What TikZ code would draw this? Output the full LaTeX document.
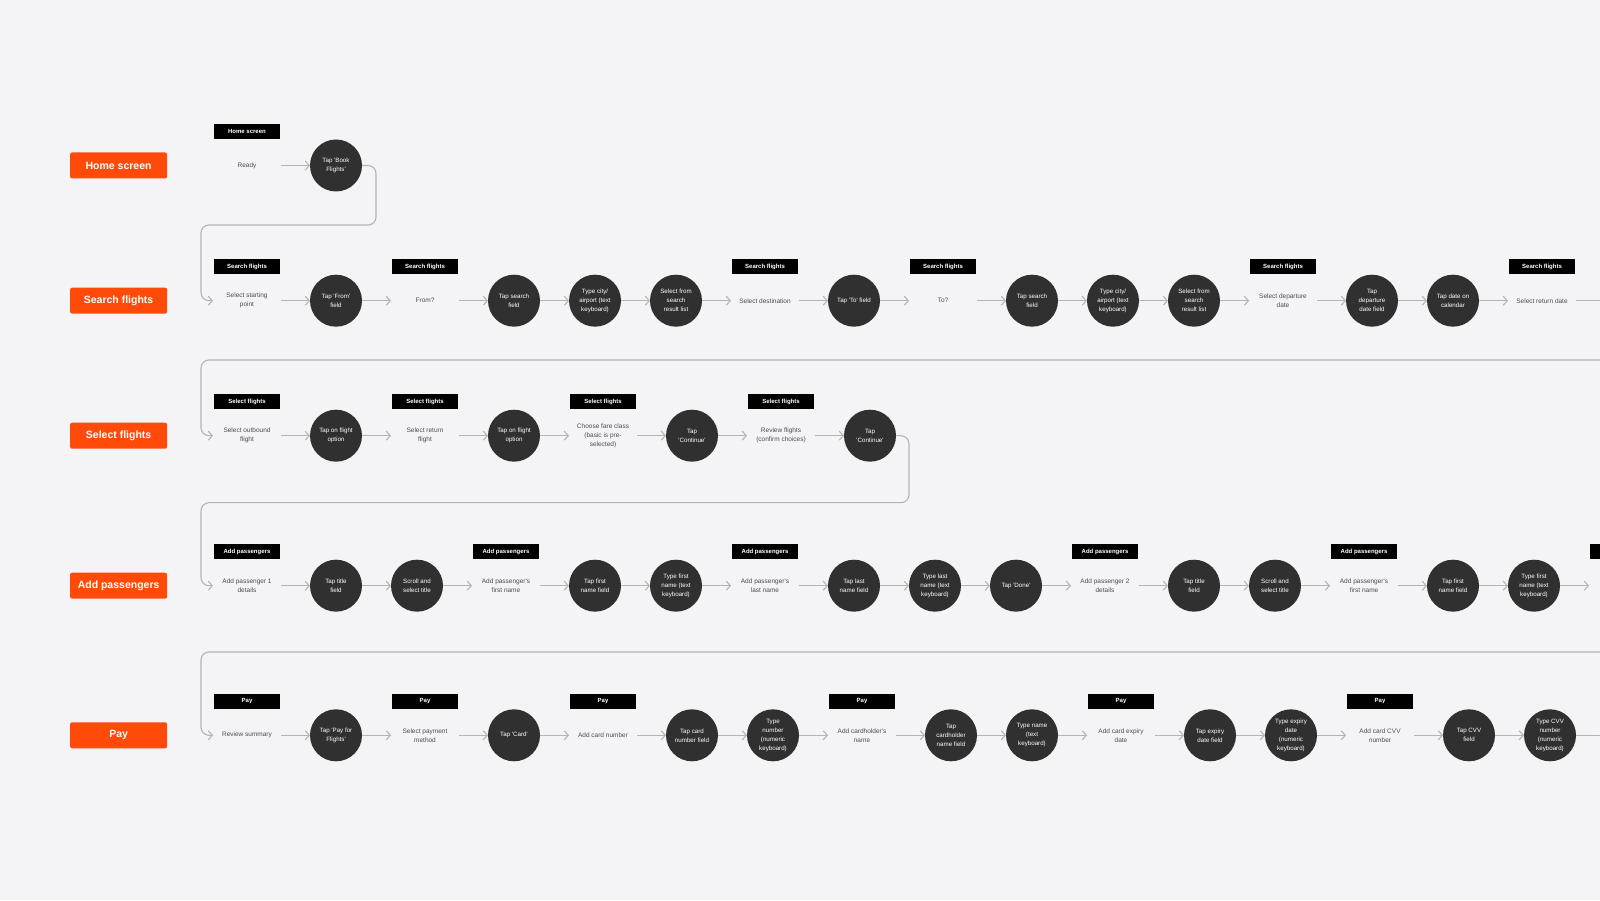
\documentclass[tikz,border=0pt]{standalone}
\usepackage{xcolor}
\usepackage{fontspec}
\usepackage{tikz}
\usetikzlibrary{arrows.meta, positioning}
\newfontfamily\uifont{Liberation Sans}
\definecolor{canvas}{HTML}{F4F4F6}
\definecolor{lanefill}{HTML}{FF4A0A}
\definecolor{actionfill}{HTML}{303030}
\definecolor{notetext}{HTML}{4C4C4C}
\definecolor{linkgray}{HTML}{B4B4B4}
\tikzset{
  lane/.style={
    rectangle, rounded corners=2pt,
    minimum width=97pt, minimum height=26pt,
    fill=lanefill, text=white,
    font=\uifont\fontsize{10.5}{12}\selectfont\bfseries,
  },
  tag/.style={
    rectangle, fill=black, text=white,
    minimum width=66pt, minimum height=15pt, inner sep=0pt,
    label distance=6.5pt,
    font=\uifont\fontsize{6}{7}\selectfont\bfseries,
  },
  tagged/.style={label={[tag]90:#1}},
  note/.style={
    rectangle, inner sep=0pt, outer sep=0pt,
    minimum width=68pt, minimum height=40pt,
    align=center, text=notetext,
    font=\uifont\fontsize{6.5}{9}\selectfont,
  },
  action/.style={
    circle, inner sep=0pt, outer sep=0pt, minimum size=52pt,
    fill=actionfill, text=white, align=center,
    font=\uifont\fontsize{6.2}{9}\selectfont,
  },
  arrow/.style={-{Straight Barb[length=4pt,width=9pt]}, line width=1.1pt, color=linkgray},
  wrap/.style={arrow, rounded corners=8pt},
}

\begin{document}
\begin{tikzpicture}[x=1pt, y=1pt, node distance=29pt]

  \useasboundingbox (0,0) rectangle (1600,900);
  \clip (0,0) rectangle (1600,900);
  \fill[canvas] (0,0) rectangle (1600,900);

  % lanes
  \node[lane] (lhome) at (118.6,734.5) {Home screen};
  \node[lane] (lsearch) at (118.6,599.3) {Search flights};
  \node[lane] (lselect) at (118.6,464.3) {Select flights};
  \node[lane] (ladd) at (118.6,314.3) {Add passengers};
  \node[lane] (lpay) at (118.6,164.7) {Pay};

  % home screen
  \node[note, tagged=Home screen] (h1) at (247,734.5) {Ready};
  \node[action, right=of h1] (h2) {Tap 'Book\\Flights'};

  % search flights
  \node[note, tagged=Search flights] (s1) at (247,599.3) {Select starting\\point};
  \node[action, right=of s1] (s2) {Tap 'From'\\field};
  \node[note, tagged=Search flights, right=of s2] (s3) {From?};
  \node[action, right=of s3] (s4) {Tap search\\field};
  \node[action, right=of s4] (s5) {Type city/\\airport (text\\keyboard)};
  \node[action, right=of s5] (s6) {Select from\\search\\result list};
  \node[note, tagged=Search flights, right=of s6] (s7) {Select destination};
  \node[action, right=of s7] (s8) {Tap 'To' field};
  \node[note, tagged=Search flights, right=of s8] (s9) {To?};
  \node[action, right=of s9] (s10) {Tap search\\field};
  \node[action, right=of s10] (s11) {Type city/\\airport (text\\keyboard)};
  \node[action, right=of s11] (s12) {Select from\\search\\result list};
  \node[note, tagged=Search flights, right=of s12] (s13) {Select departure\\date};
  \node[action, right=of s13] (s14) {Tap\\departure\\date field};
  \node[action, right=of s14] (s15) {Tap date on\\calendar};
  \node[note, tagged=Search flights, right=of s15] (s16) {Select return date};
  \coordinate[right=of s16] (s17);

  % select flights
  \node[note, tagged=Select flights] (f1) at (247,464.3) {Select outbound\\flight};
  \node[action, right=of f1] (f2) {Tap on flight\\option};
  \node[note, tagged=Select flights, right=of f2] (f3) {Select return\\flight};
  \node[action, right=of f3] (f4) {Tap on flight\\option};
  \node[note, tagged=Select flights, right=of f4] (f5) {Choose fare class\\(basic is pre-\\selected)};
  \node[action, right=of f5] (f6) {Tap\\'Continue'};
  \node[note, tagged=Select flights, right=of f6] (f7) {Review flights\\(confirm choices)};
  \node[action, right=of f7] (f8) {Tap\\'Continue'};

  % add passengers
  \node[note, tagged=Add passengers] (a1) at (247,314.3) {Add passenger 1\\details};
  \node[action, right=of a1] (a2) {Tap title\\field};
  \node[action, right=of a2] (a3) {Scroll and\\select title};
  \node[note, tagged=Add passengers, right=of a3] (a4) {Add passenger's\\first name};
  \node[action, right=of a4] (a5) {Tap first\\name field};
  \node[action, right=of a5] (a6) {Type first\\name (text\\keyboard)};
  \node[note, tagged=Add passengers, right=of a6] (a7) {Add passenger's\\last name};
  \node[action, right=of a7] (a8) {Tap last\\name field};
  \node[action, right=of a8] (a9) {Type last\\name (text\\keyboard)};
  \node[action, right=of a9] (a10) {Tap 'Done'};
  \node[note, tagged=Add passengers, right=of a10] (a11) {Add passenger 2\\details};
  \node[action, right=of a11] (a12) {Tap title\\field};
  \node[action, right=of a12] (a13) {Scroll and\\select title};
  \node[note, tagged=Add passengers, right=of a13] (a14) {Add passenger's\\first name};
  \node[action, right=of a14] (a15) {Tap first\\name field};
  \node[action, right=of a15] (a16) {Type first\\name (text\\keyboard)};
  \node[note, tagged={}, right=of a16] (a17) {};

  % pay
  \node[note, tagged=Pay] (p1) at (247,164.7) {Review summary};
  \node[action, right=of p1] (p2) {Tap 'Pay for\\Flights'};
  \node[note, tagged=Pay, right=of p2] (p3) {Select payment\\method};
  \node[action, right=of p3] (p4) {Tap 'Card'};
  \node[note, tagged=Pay, right=of p4] (p5) {Add card number};
  \node[action, right=of p5] (p6) {Tap card\\number field};
  \node[action, right=of p6] (p7) {Type\\number\\(numeric\\keyboard)};
  \node[note, tagged=Pay, right=of p7] (p8) {Add cardholder's\\name};
  \node[action, right=of p8] (p9) {Tap\\cardholder\\name field};
  \node[action, right=of p9] (p10) {Type name\\(text\\keyboard)};
  \node[note, tagged=Pay, right=of p10] (p11) {Add card expiry\\date};
  \node[action, right=of p11] (p12) {Tap expiry\\date field};
  \node[action, right=of p12] (p13) {Type expiry\\date\\(numeric\\keyboard)};
  \node[note, tagged=Pay, right=of p13] (p14) {Add card CVV\\number};
  \node[action, right=of p14] (p15) {Tap CVV\\field};
  \node[action, right=of p15] (p16) {Type CVV\\number\\(numeric\\keyboard)};
  \coordinate[right=of p16] (p17);

  % row breaks
  \coordinate (turn1) at (201,675);
  \coordinate (edge2) at (1610,540);
  \coordinate (turn3) at (201,397.3);
  \coordinate (edge4) at (1610,248);

  \draw[arrow] (h1) -- (h2);
  \draw[wrap] (h2.east) -- ++(14,0) |- (turn1) |- (s1.west);

  \draw[arrow] (s1) -- (s2);
  \draw[arrow] (s2) -- (s3);
  \draw[arrow] (s3) -- (s4);
  \draw[arrow] (s4) -- (s5);
  \draw[arrow] (s5) -- (s6);
  \draw[arrow] (s6) -- (s7);
  \draw[arrow] (s7) -- (s8);
  \draw[arrow] (s8) -- (s9);
  \draw[arrow] (s9) -- (s10);
  \draw[arrow] (s10) -- (s11);
  \draw[arrow] (s11) -- (s12);
  \draw[arrow] (s12) -- (s13);
  \draw[arrow] (s13) -- (s14);
  \draw[arrow] (s14) -- (s15);
  \draw[arrow] (s15) -- (s16);
  \draw[arrow] (s16) -- (s17);
  \draw[wrap] (edge2) -| ([xshift=-12pt]f1.west) -- (f1.west);

  \draw[arrow] (f1) -- (f2);
  \draw[arrow] (f2) -- (f3);
  \draw[arrow] (f3) -- (f4);
  \draw[arrow] (f4) -- (f5);
  \draw[arrow] (f5) -- (f6);
  \draw[arrow] (f6) -- (f7);
  \draw[arrow] (f7) -- (f8);
  \draw[wrap] (f8.east) -- ++(13,0) |- (turn3) |- (a1.west);

  \draw[arrow] (a1) -- (a2);
  \draw[arrow] (a2) -- (a3);
  \draw[arrow] (a3) -- (a4);
  \draw[arrow] (a4) -- (a5);
  \draw[arrow] (a5) -- (a6);
  \draw[arrow] (a6) -- (a7);
  \draw[arrow] (a7) -- (a8);
  \draw[arrow] (a8) -- (a9);
  \draw[arrow] (a9) -- (a10);
  \draw[arrow] (a10) -- (a11);
  \draw[arrow] (a11) -- (a12);
  \draw[arrow] (a12) -- (a13);
  \draw[arrow] (a13) -- (a14);
  \draw[arrow] (a14) -- (a15);
  \draw[arrow] (a15) -- (a16);
  \draw[arrow] (a16) -- (a17);
  \draw[wrap] (edge4) -| ([xshift=-12pt]p1.west) -- (p1.west);

  \draw[arrow] (p1) -- (p2);
  \draw[arrow] (p2) -- (p3);
  \draw[arrow] (p3) -- (p4);
  \draw[arrow] (p4) -- (p5);
  \draw[arrow] (p5) -- (p6);
  \draw[arrow] (p6) -- (p7);
  \draw[arrow] (p7) -- (p8);
  \draw[arrow] (p8) -- (p9);
  \draw[arrow] (p9) -- (p10);
  \draw[arrow] (p10) -- (p11);
  \draw[arrow] (p11) -- (p12);
  \draw[arrow] (p12) -- (p13);
  \draw[arrow] (p13) -- (p14);
  \draw[arrow] (p14) -- (p15);
  \draw[arrow] (p15) -- (p16);
  \draw[arrow] (p16) -- (p17);

\end{tikzpicture}
\end{document}
